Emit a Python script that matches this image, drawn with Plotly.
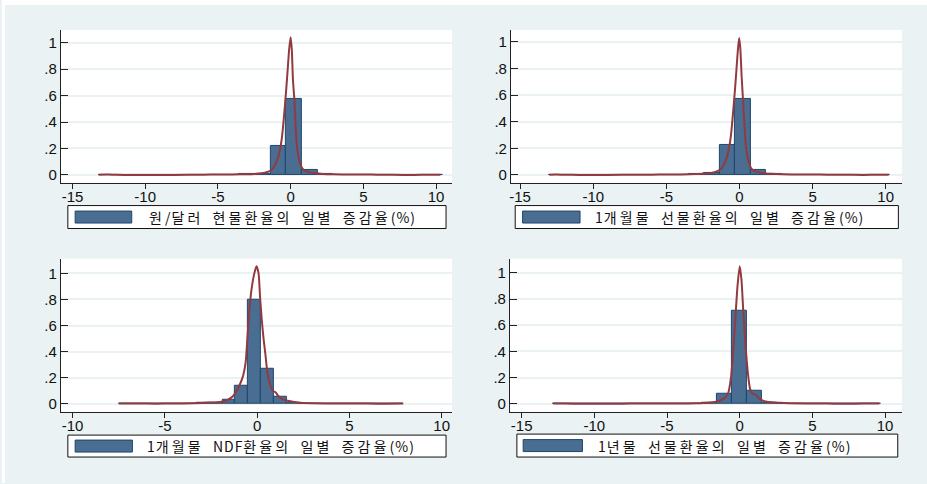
import re
import numpy as np
import plotly.graph_objects as go

W, H = 927, 484

# ---- data -------------------------------------------------------------
labels = [
    "원/달러 현물환율의 일별 증감율(%)",
    "1개월물 선물환율의 일별 증감율(%)",
    "1개월물 NDF환율의 일별 증감율(%)",
    "1년물 선물환율의 일별 증감율(%)",
]

# histogram bins (first edge, bin width) and densities, 22 bins each
bin_start = [-13.2, -13.0, -7.48, -12.83]
bin_width = [1.075, 1.06, 0.70, 1.025]

dens_spot = [0.003, 0, 0, 0, 0, 0, 0.002, 0.002, 0.003, 0.004, 0.010,
             0.216, 0.575, 0.035, 0.008, 0.003, 0.002, 0.002, 0, 0, 0, 0.003]
dens_fwd1m = [0.003, 0, 0, 0, 0, 0, 0.002, 0.002, 0.003, 0.004, 0.012,
              0.227, 0.570, 0.038, 0.008, 0.003, 0.002, 0.002, 0, 0, 0, 0.003]
dens_ndf = [0.002, 0.002, 0.002, 0.002, 0.003, 0.004, 0.006, 0.012, 0.028,
            0.140, 0.795, 0.270, 0.054, 0.012, 0.004, 0.003, 0.002, 0.002,
            0.002, 0.002, 0.002, 0.002]
dens_fwd1y = [0.003, 0, 0, 0, 0, 0.003, 0.001, 0.002, 0.003, 0.004, 0.010,
              0.074, 0.708, 0.099, 0.012, 0.004, 0.003, 0.003, 0.002, 0, 0, 0.003]

# kernel density estimates
kx_spot = [-13.2, -12.6, -12, -11, -9, -7, -6, -5, -4, -3, -2.5, -2, -1.6, -1.3,
           -1.1, -0.9, -0.75, -0.6, -0.45, -0.3, -0.2, -0.1, 0.0, 0.08, 0.16,
           0.27, 0.35, 0.45, 0.6, 0.8, 1.0, 1.3, 1.7, 2.2, 3, 4, 5, 6, 7, 8.5,
           9.6, 10.3]
ky_spot = [0.002, 0.003, 0.001, 0, 0, 0.001, 0.002, 0.003, 0.004, 0.006, 0.008,
           0.012, 0.022, 0.04, 0.07, 0.12, 0.18, 0.28, 0.45, 0.65, 0.80, 0.95,
           1.04, 0.95, 0.72, 0.55, 0.35, 0.20, 0.11, 0.05, 0.03, 0.02, 0.013,
           0.008, 0.005, 0.003, 0.004, 0.002, 0.001, 0, 0.002, 0.002]

kx_fwd1m = [-13.0, -12.5, -12, -11, -9, -7, -6, -5, -4, -3, -2.5, -2, -1.6, -1.3,
            -1.1, -0.9, -0.75, -0.6, -0.45, -0.3, -0.2, -0.1, -0.02, 0.06, 0.15,
            0.25, 0.35, 0.45, 0.6, 0.8, 1.0, 1.3, 1.7, 2.2, 3, 4, 5, 6, 7, 8.5,
            9.5, 10.2]
ky_fwd1m = [0.002, 0.003, 0.001, 0, 0, 0.001, 0.002, 0.003, 0.004, 0.006, 0.008,
            0.013, 0.024, 0.042, 0.07, 0.12, 0.18, 0.28, 0.45, 0.65, 0.80, 0.95,
            1.03, 0.95, 0.74, 0.55, 0.36, 0.21, 0.11, 0.05, 0.03, 0.02, 0.013,
            0.008, 0.005, 0.003, 0.004, 0.002, 0.001, 0, 0.002, 0.002]

kx_ndf = [-7.48, -6, -5, -4, -3, -2.5, -2, -1.6, -1.3, -1.1, -0.9, -0.75, -0.62,
          -0.55, -0.48, -0.4, -0.3, -0.15, -0.03, 0.08, 0.16, 0.25, 0.35, 0.45,
          0.55, 0.7, 0.85, 1.0, 1.15, 1.4, 1.8, 2.2, 3, 4, 5, 6, 7, 7.92]
ky_ndf = [0.002, 0.002, 0.002, 0.003, 0.006, 0.01, 0.015, 0.03, 0.06, 0.10, 0.16,
          0.22, 0.32, 0.45, 0.60, 0.75, 0.88, 1.0, 1.055, 1.0, 0.82, 0.65, 0.50,
          0.38, 0.25, 0.15, 0.10, 0.09, 0.06, 0.035, 0.02, 0.01, 0.004, 0.003,
          0.002, 0.002, 0.001, 0.002]

kx_fwd1y = [-12.83, -12, -11, -8, -7, -6.5, -5, -4, -3, -2.5, -2, -1.5, -1.1, -0.8,
            -0.6, -0.45, -0.3, -0.15, 0.0, 0.12, 0.25, 0.4, 0.55, 0.7, 0.85, 1.1,
            1.35, 1.7, 2.2, 2.8, 3.5, 4.5, 5.5, 6.5, 8, 9, 9.6]
ky_fwd1y = [0.003, 0.002, 0, 0.001, 0.003, 0.002, 0.002, 0.003, 0.004, 0.006, 0.01,
            0.02, 0.04, 0.08, 0.20, 0.40, 0.65, 0.90, 1.05, 0.95, 0.70, 0.45, 0.25,
            0.12, 0.08, 0.07, 0.04, 0.02, 0.012, 0.008, 0.004, 0.003, 0.003, 0.001,
            0.001, 0.003, 0.003]

densities = [dens_spot, dens_fwd1m, dens_ndf, dens_fwd1y]
kde_x = [kx_spot, kx_fwd1m, kx_ndf, kx_fwd1y]
kde_y = [ky_spot, ky_fwd1m, ky_ndf, ky_fwd1y]

x_tickvals = [[-15, -10, -5, 0, 5, 10], [-15, -10, -5, 0, 5, 10],
              [-10, -5, 0, 5, 10], [-15, -10, -5, 0, 5, 10]]
x_ticktext = [["-15", "-10", "-5", "0", "5", "10"], ["-15", "-10", "-5", "0", "5", "10"],
              ["-10", "-5", "0", "5", "10"], ["-15", "-10", "-5", "0", "5", "10"]]
y_tickvals = [0, 0.2, 0.4, 0.6, 0.8, 1]
y_ticktext = ["0", ".2", ".4", ".6", ".8", "1"]

# ---- layout geometry (pixels) ----------------------------------------
plot_px = [  # x0, x1, y0(top), y1(bottom)
    (59, 451, 30, 183),
    (510, 902, 30, 183),
    (59, 451, 259.3, 412.7),
    (509, 902, 259.3, 412.7),
]
x_ranges = [[-15.80, 11.10], [-15.63, 11.12], [-10.63, 10.56], [-15.81, 11.17]]
y_ranges = [[-0.058, 1.096], [-0.058, 1.090], [-0.061, 1.112], [-0.061, 1.107]]

legend_px = [  # box x0, x1, y0, y1, key x0, x1, text x
    (66, 445, 206, 229, 73.3, 130, 145),
    (514.3, 898.3, 206, 229, 521.7, 579.3, 592.7),
    (66, 445, 436, 458, 73.3, 130.7, 143.3),
    (516, 897.7, 435, 458, 522.3, 581.7, 595),
]

BG = "#EAF2F3"
BAR_FILL = "#4A6D92"
BAR_LINE = "#1E476D"
KDE = "#923A40"
TICK_FONT = dict(family="Arial, Liberation Sans, sans-serif", size=15, color="#111")
KR_FONT = "Noto Sans CJK KR, sans-serif"


def px_x(v):
    return v / W


def px_y(v):
    return 1 - v / H


def spaced(text):
    """Legend text with the Hangul runs spaced out."""
    out = []
    for run in re.findall(r"[\uac00-\ud7a3]+| +|[^\uac00-\ud7a3 ]+", text):
        if re.match(r"[\uac00-\ud7a3]", run):
            ls = 3.1
        elif run.startswith(" "):
            ls = 6
        else:
            ls = 1
        out.append('<span style="letter-spacing:%spx">%s</span>' % (ls, run))
    return "".join(out)


fig = go.Figure()
layout = dict(
    width=W, height=H, margin=dict(l=0, r=0, t=0, b=0),
    paper_bgcolor=BG, plot_bgcolor="white", showlegend=False,
    bargap=0,
)

shapes = [
    # white frame strips along the top and left edges
    dict(type="rect", xref="paper", yref="paper", x0=0, x1=1, y0=px_y(5), y1=1,
         fillcolor="white", line=dict(width=0), layer="below"),
    dict(type="rect", xref="paper", yref="paper", x0=0, x1=px_x(3), y0=0, y1=1,
         fillcolor="white", line=dict(width=0), layer="below"),
]
annotations = []

for i in range(4):
    sfx = "" if i == 0 else str(i + 1)
    xa, ya = "x" + sfx, "y" + sfx
    dens = np.array(densities[i])
    centers = bin_start[i] + bin_width[i] * (np.arange(len(dens)) + 0.5)

    fig.add_trace(go.Bar(
        x=centers, y=dens, width=bin_width[i], xaxis=xa, yaxis=ya,
        marker=dict(color=BAR_FILL, line=dict(color=BAR_LINE, width=1)),
        hoverinfo="skip",
    ))
    fig.add_trace(go.Scatter(
        x=kde_x[i], y=kde_y[i], xaxis=xa, yaxis=ya, mode="lines",
        line=dict(color=KDE, width=2, shape="spline", smoothing=0.6),
        hoverinfo="skip",
    ))

    x0, x1, t, b = plot_px[i]
    layout["xaxis" + sfx] = dict(
        domain=[px_x(x0), px_x(x1)], anchor=ya, range=x_ranges[i],
        tickvals=x_tickvals[i], ticktext=x_ticktext[i], tickfont=TICK_FONT,
        showgrid=False, zeroline=False, showline=True, linecolor="#222",
        linewidth=1, ticks="outside", ticklen=5, tickcolor="#222",
        ticklabelstandoff=-5, fixedrange=True,
    )
    layout["yaxis" + sfx] = dict(
        domain=[px_y(b), px_y(t)], anchor=xa, range=y_ranges[i],
        tickvals=y_tickvals, ticktext=y_ticktext, tickfont=TICK_FONT,
        showgrid=True, gridcolor=BG, gridwidth=2, zeroline=False,
        showline=True, linecolor="#222", linewidth=1,
        ticks="inside", ticklen=7, tickcolor="#222", fixedrange=True,
    )

    bx0, bx1, by0, by1, kx0, kx1, tx = legend_px[i]
    cy = (by0 + by1) / 2
    shapes.append(dict(type="rect", xref="paper", yref="paper",
                       x0=px_x(bx0), x1=px_x(bx1), y0=px_y(by1), y1=px_y(by0),
                       fillcolor="white", line=dict(color="#111", width=1)))
    shapes.append(dict(type="rect", xref="paper", yref="paper",
                       x0=px_x(kx0), x1=px_x(kx1), y0=px_y(cy + 6), y1=px_y(cy - 6),
                       fillcolor=BAR_FILL, line=dict(color=BAR_LINE, width=1)))
    annotations.append(dict(
        xref="paper", yref="paper", x=px_x(tx), y=px_y(cy),
        xanchor="left", yanchor="middle", showarrow=False,
        text=spaced(labels[i]),
        font=dict(family=KR_FONT, size=14, color="#111"),
    ))

layout["shapes"] = shapes
layout["annotations"] = annotations
fig.update_layout(**layout)

fig.write_html("out.html")
